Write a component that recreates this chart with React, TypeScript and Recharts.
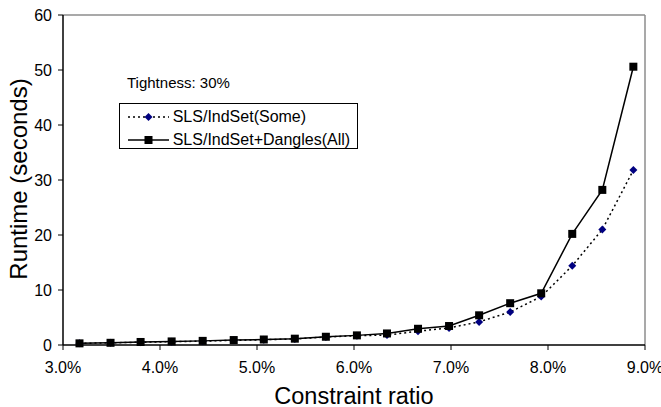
import React from 'react';
import { LineChart, Line, XAxis, YAxis, ReferenceLine, Label } from 'recharts';

const ratios = [3.17, 3.49, 3.80, 4.12, 4.44, 4.76, 5.07, 5.39, 5.71, 6.03, 6.34, 6.66, 6.98, 7.29, 7.61, 7.93, 8.25, 8.56, 8.88];
const someRuntime = [0.3, 0.4, 0.5, 0.6, 0.7, 0.85, 0.95, 1.1, 1.45, 1.7, 1.8, 2.5, 3.1, 4.2, 6.0, 8.8, 14.4, 21.0, 31.8];
const allRuntime = [0.3, 0.4, 0.55, 0.65, 0.75, 0.9, 1.0, 1.15, 1.5, 1.75, 2.1, 2.95, 3.45, 5.4, 7.6, 9.4, 20.2, 28.2, 50.6];
const xTicks = [3, 4, 5, 6, 7, 8, 9];
const yTicks = [0, 10, 20, 30, 40, 50, 60];
const seriesNames = ['SLS/IndSet(Some)', 'SLS/IndSet+Dangles(All)'];
const noteText = 'Tightness: 30%';

const data = ratios.map((r, i) => ({ ratio: r, some: someRuntime[i], all: allRuntime[i] }));

const FONT = '"Liberation Sans", Arial, sans-serif';
const NAVY = '#000080';

const SquareDot = (props: any) => {
  const { cx, cy } = props;
  if (cx == null || cy == null) return null;
  return <rect x={cx - 4} y={cy - 4} width={8} height={8} fill="#000" />;
};

const DiamondDot = (props: any) => {
  const { cx, cy } = props;
  if (cx == null || cy == null) return null;
  return <polygon points={`${cx},${cy - 4} ${cx + 4},${cy} ${cx},${cy + 4} ${cx - 4},${cy}`} fill={NAVY} />;
};

const LegendBox = () => (
  <div style={{ position: 'absolute', left: 119, top: 70, width: 245, height: 82, fontFamily: FONT, color: '#000' }}>
    <div style={{ position: 'absolute', left: 8, top: 3.5, fontSize: 15, lineHeight: '17px', whiteSpace: 'nowrap' }}>{noteText}</div>
    <div style={{ position: 'absolute', left: 0, top: 33, width: 237, height: 44, border: '1px solid #000', background: '#fff', boxSizing: 'content-box' }}>
      <div style={{ position: 'absolute', left: 0, top: 1, height: 23, width: 237, display: 'flex', alignItems: 'center' }}>
        <svg width={52} height={12} style={{ display: 'block' }}>
          <line x1={8} y1={6} x2={49} y2={6} stroke="#000" strokeWidth={1.5} strokeDasharray="2 3" />
          <polygon points="28.5,2 32.5,6 28.5,10 24.5,6" fill={NAVY} />
        </svg>
        <span style={{ fontSize: 16, whiteSpace: 'nowrap', marginLeft: 0.7 }}>{seriesNames[0]}</span>
      </div>
      <div style={{ position: 'absolute', left: 0, top: 24.5, height: 23, width: 237, display: 'flex', alignItems: 'center' }}>
        <svg width={52} height={12} style={{ display: 'block' }}>
          <line x1={8} y1={6} x2={49} y2={6} stroke="#000" strokeWidth={1.5} />
          <rect x={24.5} y={2} width={8} height={8} fill="#000" />
        </svg>
        <span style={{ fontSize: 16, whiteSpace: 'nowrap', marginLeft: 0.7 }}>{seriesNames[1]}</span>
      </div>
    </div>
  </div>
);

const YTitle = (props: any) => {
  const vb = props.viewBox || {};
  const cy = vb.y + vb.height / 2 - 1;
  const x = 27;
  return (
    <text x={x} y={cy} transform={`rotate(-90, ${x}, ${cy})`} textAnchor="middle" fontSize={24} fontFamily={FONT} fill="#000">
      Runtime (seconds)
    </text>
  );
};

const XTitle = (props: any) => {
  const vb = props.viewBox || {};
  const cx = vb.x + vb.width / 2;
  return (
    <text x={cx} y={404} textAnchor="middle" fontSize={23.5} fontFamily={FONT} fill="#000">
      Constraint ratio
    </text>
  );
};

export default function App() {
  return (
    <div style={{ position: 'absolute', left: 0, top: 0, width: 661, height: 407, background: '#fff', overflow: 'hidden' }}>
      <LineChart width={661} height={407} data={data} margin={{ top: 15, right: 16, bottom: 0, left: 0 }}>
        <XAxis
          dataKey="ratio"
          type="number"
          domain={[3, 9]}
          ticks={xTicks}
          tickFormatter={(v: number) => `${v.toFixed(1)}%`}
          height={62}
          tickSize={5}
          tickMargin={12}
          axisLine={{ stroke: '#000', strokeWidth: 1.5 }}
          tickLine={{ stroke: '#000' }}
          tick={{ fill: '#000', fontSize: 16, fontFamily: FONT }}
          interval={0}
        >
          <Label content={XTitle} />
        </XAxis>
        <YAxis
          type="number"
          domain={[0, 60]}
          ticks={yTicks}
          width={63}
          tickSize={5}
          tickMargin={6}
          axisLine={{ stroke: '#000', strokeWidth: 1.5 }}
          tickLine={{ stroke: '#000' }}
          tick={{ fill: '#000', fontSize: 16, fontFamily: FONT }}
          interval={0}
        >
          <Label content={YTitle} />
        </YAxis>
        <ReferenceLine y={60} stroke="#8c8c8c" strokeWidth={1.5} />
        <ReferenceLine x={9} stroke="#8c8c8c" strokeWidth={1.5} />
        <Line
          type="linear"
          dataKey="some"
          name={seriesNames[0]}
          stroke="#000"
          strokeWidth={1.5}
          strokeDasharray="2 3"
          dot={<DiamondDot />}
          activeDot={false}
          isAnimationActive={false}
        />
        <Line
          type="linear"
          dataKey="all"
          name={seriesNames[1]}
          stroke="#000"
          strokeWidth={1.5}
          dot={<SquareDot />}
          activeDot={false}
          isAnimationActive={false}
        />
      </LineChart>
      <LegendBox />
    </div>
  );
}
